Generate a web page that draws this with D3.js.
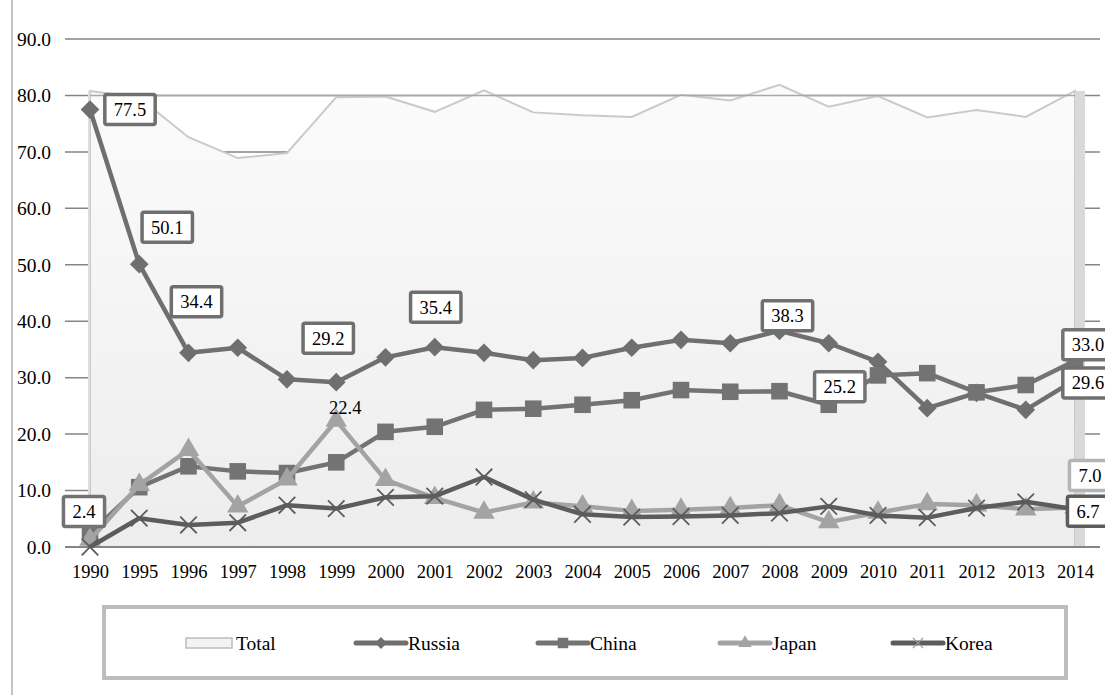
<!DOCTYPE html>
<html>
<head>
<meta charset="utf-8">
<script src="https://cdn.jsdelivr.net/npm/d3@7"></script>
<style>
  html, body { margin: 0; padding: 0; background: #fff; }
  svg { display: block; }
  text { font-family: "Liberation Serif", "Times New Roman", serif; fill: #000; }
</style>
</head>
<body>
<svg id="chart" width="1105" height="695"></svg>
<script>
// Categories (years)
const years = ["1990","1995","1996","1997","1998","1999","2000","2001","2002","2003",
               "2004","2005","2006","2007","2008","2009","2010","2011","2012","2013","2014"];

// Series values (%)
const total  = [80.8,79.6,72.6,68.9,69.8,79.7,79.8,77.1,80.9,77.0,76.5,76.2,80.1,79.1,81.9,78.0,79.9,76.1,77.4,76.2,80.8];
const russia = [77.5,50.1,34.4,35.3,29.7,29.2,33.6,35.4,34.4,33.1,33.5,35.3,36.7,36.1,38.3,36.1,32.8,24.6,27.3,24.3,29.6];
const china  = [2.4,10.6,14.3,13.4,13.1,15.0,20.4,21.3,24.3,24.5,25.2,26.0,27.8,27.5,27.6,25.2,30.4,30.8,27.4,28.7,33.0];
const japan  = [1.3,11.0,17.2,7.2,12.0,22.4,11.9,8.7,6.1,7.9,7.2,6.4,6.6,6.9,7.4,4.4,6.1,7.6,7.4,6.7,7.0];
const korea  = [0.0,5.1,3.9,4.3,7.4,6.8,8.8,9.0,12.4,8.4,5.8,5.3,5.4,5.6,6.0,7.2,5.6,5.2,6.9,8.0,6.7];

// Y axis tick values
const yTicks = [0,10,20,30,40,50,60,70,80,90];

// Series styling
const seriesList = [
  { name: "Russia", values: russia, color: "#6f6f6f", symbol: d3.symbolSquare,  size: 175, rotate: 45, filled: true },
  { name: "China",  values: china,  color: "#737373", symbol: d3.symbolSquare,  size: 275, rotate: 0,  filled: true },
  { name: "Japan",  values: japan,  color: "#a3a3a3", symbol: d3.symbolTriangle, size: 200, rotate: 0, filled: true },
  { name: "Korea",  values: korea,  color: "#5c5c5c", symbol: d3.symbolTimes,   size: 180, rotate: 0,  filled: false }
];

// Value labels: series, year, offset of the label centre from the point, box border colour
const labels = [
  { s: "Russia", year: "1990", dx: 40, dy: 0,   border: "#6f6f6f" },
  { s: "Russia", year: "1995", dx: 28, dy: -37, border: "#6f6f6f" },
  { s: "Russia", year: "1996", dx: 8,  dy: -51, border: "#6f6f6f" },
  { s: "Russia", year: "1999", dx: -8, dy: -44, border: "#6f6f6f" },
  { s: "Russia", year: "2001", dx: 1,  dy: -40, border: "#6f6f6f" },
  { s: "Russia", year: "2008", dx: 8,  dy: -15, border: "#6f6f6f" },
  { s: "Russia", year: "2014", dx: 13, dy: 3,   border: "#6f6f6f" },
  { s: "China",  year: "1990", dx: -6, dy: -22, border: "#737373" },
  { s: "China",  year: "2009", dx: 11, dy: -18, border: "#737373" },
  { s: "China",  year: "2014", dx: 13, dy: -16, border: "#737373" },
  { s: "Japan",  year: "1999", dx: 9,  dy: -13, border: null },
  { s: "Japan",  year: "2014", dx: 15, dy: -32, border: "#b4b4b4" },
  { s: "Korea",  year: "2014", dx: 13, dy: 2,   border: "#5c5c5c" }
];

const svg = d3.select("#chart");

const x = d3.scalePoint().domain(years).range([90, 1075]);
const y = d3.scaleLinear().domain([0, 90]).range([547, 39]);

// outer frame edge on the left
svg.append("line")
  .attr("x1", 12).attr("x2", 12).attr("y1", 0).attr("y2", 695)
  .attr("stroke", "#c4c4c4").attr("stroke-width", 2);

// gradient for the Total area
const defs = svg.append("defs");
const grad = defs.append("linearGradient").attr("id", "totalFill")
  .attr("x1", 0).attr("y1", 0).attr("x2", 0).attr("y2", 1);
grad.append("stop").attr("offset", "0%").attr("stop-color", "#fbfbfb");
grad.append("stop").attr("offset", "100%").attr("stop-color", "#ededed");

// horizontal gridlines
svg.append("g").selectAll("line").data(yTicks).join("line")
  .attr("x1", 65).attr("x2", 1100)
  .attr("y1", d => y(d)).attr("y2", d => y(d))
  .attr("stroke", "#858585").attr("stroke-width", 1.5);

// y axis labels
svg.append("g")
  .attr("transform", "translate(65,0)")
  .call(d3.axisLeft(y).tickValues(yTicks).tickFormat(d3.format(".1f")).tickSize(0).tickPadding(14))
  .call(g => g.select(".domain").remove())
  .call(g => g.selectAll("text")
    .style("font-family", '"Liberation Serif", "Times New Roman", serif')
    .style("font-size", "19.5px").attr("fill", "#000"));

// Total area with a shaded right side
const yearIdx = years.map((d, i) => i);
svg.append("path")
  .attr("d", d3.area().x(i => x(years[i])).y0(y(0)).y1(i => y(total[i]))(yearIdx))
  .attr("fill", "url(#totalFill)")
  .attr("stroke", "#cacaca").attr("stroke-width", 2);

svg.append("rect")
  .attr("x", x("2014")).attr("width", 10)
  .attr("y", y(total[total.length - 1])).attr("height", y(0) - y(total[total.length - 1]))
  .attr("fill", "#d9d9d9");

svg.append("line")
  .attr("x1", x("1990") - 1).attr("x2", x("1990") - 1)
  .attr("y1", y(total[0])).attr("y2", y(0))
  .attr("stroke", "#dedede").attr("stroke-width", 2);

// reference line at 80 across the area
svg.append("line")
  .attr("x1", x("1990")).attr("x2", x("2014"))
  .attr("y1", y(80)).attr("y2", y(80))
  .attr("stroke", "#a8a8a8").attr("stroke-width", 1.5);

// base line
svg.append("line")
  .attr("x1", 65).attr("x2", 1100).attr("y1", y(0)).attr("y2", y(0))
  .attr("stroke", "#858585").attr("stroke-width", 2);

// x axis labels
svg.append("g")
  .attr("transform", `translate(0,${y(0)})`)
  .call(d3.axisBottom(x).tickSize(0).tickPadding(18))
  .call(g => g.select(".domain").remove())
  .call(g => g.selectAll("text")
    .style("font-family", '"Liberation Serif", "Times New Roman", serif')
    .style("font-size", "18.5px").attr("fill", "#000"));

// series lines and markers
const line = d3.line().x((d, i) => x(years[i])).y(d => y(d));
seriesList.forEach(s => {
  const g = svg.append("g");
  g.append("path").datum(s.values)
    .attr("d", line)
    .attr("fill", "none").attr("stroke", s.color).attr("stroke-width", 4.5)
    .attr("stroke-linejoin", "round");
  g.selectAll("path.m").data(s.values).join("path")
    .attr("class", "m")
    .attr("transform", (d, i) => `translate(${x(years[i])},${y(d)}) rotate(${s.rotate})`)
    .attr("d", d3.symbol().type(s.symbol).size(s.size))
    .attr("fill", s.filled ? s.color : "none")
    .attr("stroke", s.color)
    .attr("stroke-width", s.filled ? 0 : 1.8);
});

// value labels
const byName = Object.fromEntries(seriesList.map(s => [s.name, s]));
labels.forEach(l => {
  const s = byName[l.s];
  const v = s.values[years.indexOf(l.year)];
  const cx = x(l.year) + l.dx, cy = y(v) + l.dy;
  const g = svg.append("g");
  const t = g.append("text")
    .attr("x", cx).attr("y", cy).attr("dy", "0.35em")
    .attr("text-anchor", "middle")
    .style("font-size", "18.5px")
    .text(d3.format(".1f")(v));
  if (l.border) {
    const w = t.node().getComputedTextLength() + 18;
    g.insert("rect", "text")
      .attr("x", cx - w / 2).attr("y", cy - 15)
      .attr("width", w).attr("height", 30)
      .attr("rx", 2)
      .attr("fill", "#fff").attr("stroke", l.border).attr("stroke-width", 3.5);
  }
});

// legend
const legend = svg.append("g");
legend.append("rect")
  .attr("x", 104).attr("y", 607).attr("width", 962).attr("height", 71)
  .attr("fill", "#fff").attr("stroke", "#bdbdbd").attr("stroke-width", 4);

const legY = 643;
legend.append("rect")
  .attr("x", 186).attr("y", legY - 5).attr("width", 46).attr("height", 10)
  .attr("fill", "#f3f3f3").attr("stroke", "#bdbdbd").attr("stroke-width", 1.5);
legend.append("text").attr("x", 236).attr("y", legY).attr("dy", "0.35em")
  .style("font-size", "19.5px").text("Total");

const legX = [356, 538, 720, 893];
seriesList.forEach((s, i) => {
  const x0 = legX[i];
  legend.append("line")
    .attr("x1", x0).attr("x2", x0 + 50).attr("y1", legY).attr("y2", legY)
    .attr("stroke", s.color).attr("stroke-width", 5).attr("stroke-linecap", "round");
  legend.append("path")
    .attr("transform", `translate(${x0 + 25},${legY}) rotate(${s.rotate})`)
    .attr("d", d3.symbol().type(s.symbol).size(s.size * 0.4))
    .attr("fill", s.filled ? s.color : "none")
    .attr("stroke", s.filled ? "none" : "#9a9a9a").attr("stroke-width", 1.2);
  legend.append("text").attr("x", x0 + 52).attr("y", legY).attr("dy", "0.35em")
    .style("font-size", "19.5px").text(s.name);
});
</script>
</body>
</html>
